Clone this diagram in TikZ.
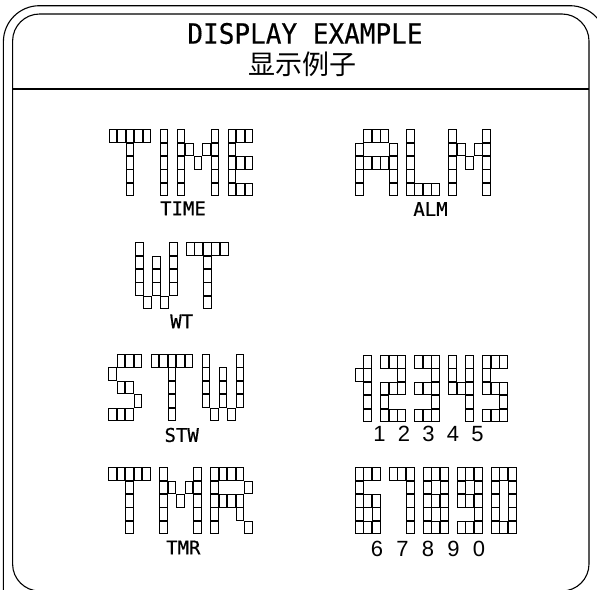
\documentclass[tikz,border=0pt]{standalone}
\usepackage{fontspec}
\newfontfamily\labelfont[FakeBold=0.6]{DejaVu Sans Mono}
\newfontfamily\titlefont[FakeStretch=0.93,FakeBold=0.4]{DejaVu Sans Mono}
\newfontfamily\cjkfont{Noto Sans CJK SC}
\newfontfamily\digitfont{Liberation Sans}
\tikzset{
  cellbox/.style={draw=black, line width=0.9pt},
  framestyle/.style={draw=black, line width=1.1pt},
  lbl/.style={inner sep=0pt, font=\labelfont\fontsize{19}{19}\selectfont},
  dig/.style={inner sep=0pt, font=\digitfont\fontsize{22}{22}\selectfont},
}
\newcommand\glyphblock[3]{%
  \foreach \c/\r in {#3} {
    \draw[cellbox] ({#1+\c*8.5+0.4},{#2+(\r-1)*13.4+0.4}) rectangle ++(7.7,12.6);
  }%
}
\begin{document}
\begin{tikzpicture}[x=1pt,y=-1pt]
\useasboundingbox (0,0) rectangle (597,589);
\begin{scope}
  \clip (0,0) rectangle (597,589);
  \draw[framestyle, rounded corners=36pt] (3.4,5.7) rectangle (606,640);
  \draw[framestyle, rounded corners=27pt] (12.6,14) rectangle (589,591);
\end{scope}
\coordinate (hl) at (12.6,89);
\coordinate (hr) at (589,89);
\draw[framestyle] (hl) -- (hr);
\node[inner sep=0pt, font=\titlefont\fontsize{28}{28}\selectfont] (title) at (305,33.5) {DISPLAY EXAMPLE};
\node[inner sep=0pt, font=\cjkfont\fontsize{27}{27}\selectfont] (subtitle) at (302,64.5) {显示例子};
% TIME
\glyphblock{108.7}{129.3}{0/1,1/1,2/1,3/1,4/1,2/2,2/3,2/4,2/5,
 6/1,6/2,6/3,6/4,6/5,
 8/1,8/2,8/3,8/4,8/5,9/2,10/3,11/2,12/1,12/2,12/3,12/4,12/5,
 14/1,15/1,16/1,14/2,14/3,15/3,16/3,14/4,14/5,15/5,16/5}
\node[lbl] (ltime) at (183,208.3) {TIME};
% ALM
\glyphblock{355}{129.3}{1/1,2/1,3/1,0/2,4/2,0/3,1/3,2/3,3/3,4/3,0/4,4/4,0/5,4/5,
 6/1,6/2,6/3,6/4,6/5,7/5,8/5,9/5,
 11/1,11/2,11/3,11/4,11/5,12/2,13/3,14/2,15/1,15/2,15/3,15/4,15/5}
\node[lbl] (lalm) at (430.5,209) {ALM};
% WT
\glyphblock{135}{242.3}{0/1,0/2,0/3,0/4,1/5,2/2,2/3,2/4,3/5,4/1,4/2,4/3,4/4,
 6/1,7/1,8/1,9/1,10/1,8/2,8/3,8/4,8/5}
\node[lbl] (lwt) at (181.7,321.3) {WT};
% STW
\glyphblock{108.3}{354}{1/1,2/1,3/1,0/2,1/3,2/3,3/4,0/5,1/5,2/5,
 5/1,6/1,7/1,8/1,9/1,7/2,7/3,7/4,7/5,
 11/1,11/2,11/3,11/4,12/5,13/2,13/3,13/4,14/5,15/1,15/2,15/3,15/4}
\node[lbl] (lstw) at (181.7,435) {STW};
% 12345
\glyphblock{355}{355}{0/2,1/1,1/2,1/3,1/4,1/5,
 3/1,4/1,5/1,5/2,3/3,4/3,5/3,3/4,3/5,4/5,5/5,
 7/1,8/1,9/1,9/2,7/3,8/3,9/3,9/4,7/5,8/5,9/5,
 11/1,11/2,11/3,12/3,13/1,13/2,13/3,13/4,13/5,
 15/1,16/1,17/1,15/2,15/3,16/3,17/3,17/4,15/5,16/5,17/5}
\node[dig] (d1) at (379.5,434) {1};
\node[dig] (d2) at (404,434) {2};
\node[dig] (d3) at (428.5,434) {3};
\node[dig] (d4) at (453,434) {4};
\node[dig] (d5) at (477.5,434) {5};
% TMR
\glyphblock{108.3}{467.3}{0/1,1/1,2/1,3/1,4/1,2/2,2/3,2/4,2/5,
 6/1,6/2,6/3,6/4,6/5,7/2,8/3,9/2,10/1,10/2,10/3,10/4,10/5,
 12/1,12/2,12/3,12/4,12/5,13/1,14/1,15/1,16/2,13/3,14/3,15/3,15/4,16/5}
\node[lbl] (ltmr) at (183.3,547.5) {TMR};
% 67890
\glyphblock{355}{467.3}{0/1,1/1,2/1,0/2,0/3,1/3,2/3,0/4,2/4,0/5,1/5,2/5,
 4/1,5/1,6/1,6/2,6/3,6/4,6/5,
 8/1,9/1,10/1,8/2,10/2,8/3,9/3,10/3,8/4,10/4,8/5,9/5,10/5,
 12/1,13/1,14/1,12/2,14/2,12/3,13/3,14/3,14/4,12/5,13/5,14/5,
 16/1,17/1,18/1,16/2,18/2,16/3,18/3,16/4,18/4,16/5,17/5,18/5}
\node[dig] (d6) at (377,549) {6};
\node[dig] (d7) at (402.5,549) {7};
\node[dig] (d8) at (428,549) {8};
\node[dig] (d9) at (453.5,549) {9};
\node[dig] (d0) at (479,549) {0};
\end{tikzpicture}
\end{document}
